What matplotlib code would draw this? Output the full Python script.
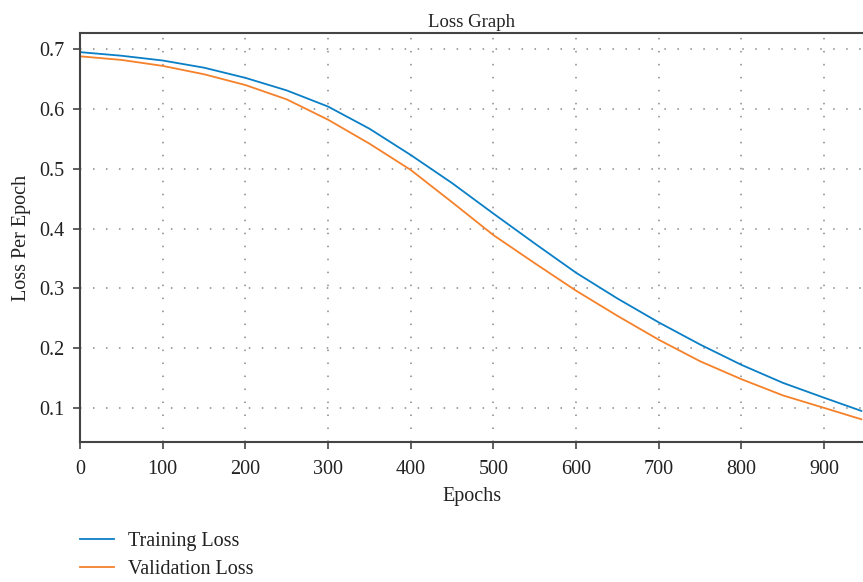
import numpy as np
import matplotlib
matplotlib.use('Agg')
import matplotlib.pyplot as plt

# epochs and loss values
epochs = [0, 50, 100, 150, 200, 250, 300, 350, 400, 450, 500,
          550, 600, 650, 700, 750, 800, 850, 900, 945]
train_loss = [0.695, 0.689, 0.681, 0.669, 0.652, 0.631, 0.604, 0.567, 0.523, 0.476,
              0.425, 0.375, 0.326, 0.283, 0.243, 0.206, 0.172, 0.142, 0.117, 0.095]
val_loss = [0.688, 0.682, 0.672, 0.658, 0.640, 0.616, 0.582, 0.542, 0.498, 0.444,
            0.389, 0.342, 0.296, 0.254, 0.214, 0.178, 0.148, 0.121, 0.100, 0.081]

x_ticks = [0, 100, 200, 300, 400, 500, 600, 700, 800, 900]
y_ticks = [0.1, 0.2, 0.3, 0.4, 0.5, 0.6, 0.7]

plt.rcParams['font.family'] = ['Liberation Serif', 'DejaVu Serif']

fig = plt.figure(figsize=(8.63, 5.82), dpi=100)
ax = fig.add_axes([80 / 863, 1 - 442 / 582, 1 - 80 / 863, (442 - 33) / 582])

ax.plot(epochs, train_loss, color='#0a7fc6', lw=1.3, label='Training Loss')
ax.plot(epochs, val_loss, color='#f5812a', lw=1.3, label='Validation Loss')

ax.set_xlim(0, 947)
ax.set_ylim(0.043, 0.727)
ax.set_xticks(x_ticks)
ax.set_yticks(y_ticks)
ax.set_yticklabels([f'{v:.1f}' for v in y_ticks])

# dotted grid
ax.grid(True, color='#888888', linestyle=(0, (1, 7.5)), linewidth=1.1)

for side in ['left', 'bottom', 'top']:
    ax.spines[side].set_color('#444444')
    ax.spines[side].set_linewidth(1.5)
ax.spines['right'].set_visible(False)

ax.tick_params(direction='out', length=5, width=1.2, color='#444444',
               labelsize=14.5, labelcolor='#222222', pad=6)
ax.tick_params(axis='x', pad=8)

ax.set_title('Loss Graph', fontsize=13.5, color='#222222', pad=4)
ax.set_xlabel('Epochs', fontsize=14.5, color='#222222', labelpad=6)
ax.set_ylabel('Loss Per Epoch', fontsize=14.5, color='#222222', labelpad=6)

fig.legend(loc='upper left', bbox_to_anchor=(80 / 863, 1 - 532 / 582), frameon=False,
           fontsize=14.5, handlelength=1.7, handletextpad=0.7, labelspacing=0.42,
           borderpad=0, borderaxespad=0, labelcolor='#222222')

fig.savefig('out.png', dpi=100)
